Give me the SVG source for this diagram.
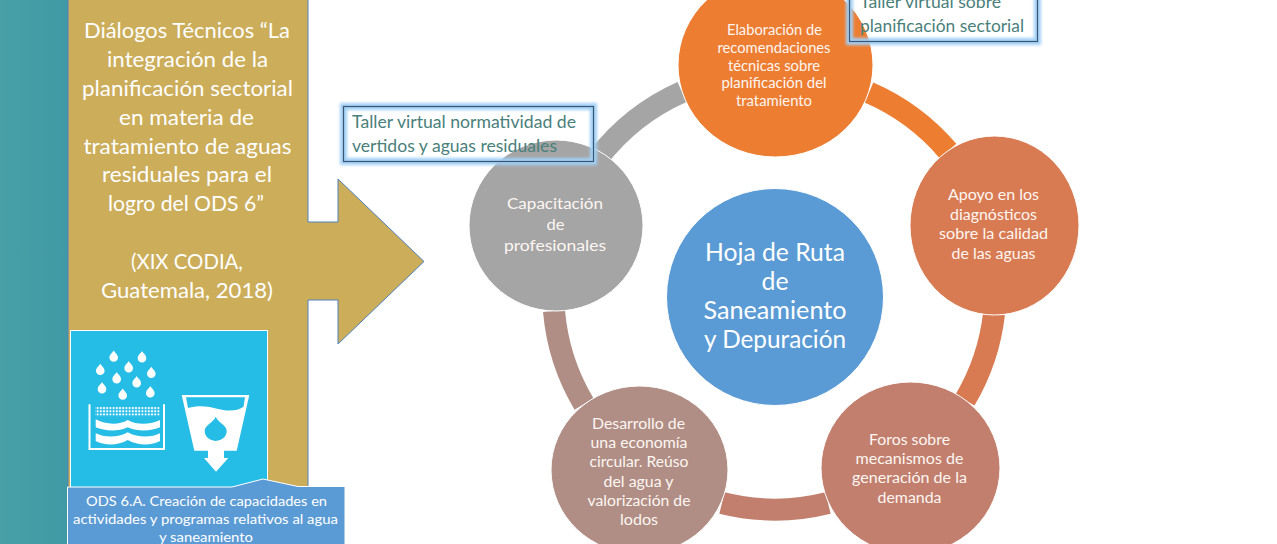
<svg xmlns="http://www.w3.org/2000/svg" width="1277" height="544" viewBox="0 0 1277 544">
<style>
text{font-family:"Lato","Open Sans","Liberation Sans",sans-serif;text-anchor:middle;fill:#fff}
.main{font-size:21.5px}
.c{font-size:14.5px;fill:#fdf6f2}
.hub{font-size:24.5px}
.note{font-size:16.5px;fill:#4a807b;text-anchor:start}
.call{font-size:14px}
.arc{fill:none;stroke-width:22}
.glow{fill:none;stroke:#a2d0f5;stroke-width:7;filter:url(#blur)}
.frame{fill:none;stroke:#3a5673;stroke-width:1.2}
.w{fill:#fff}
</style>
<defs>
<linearGradient id="teal" x1="0" x2="1" y1="0" y2="0"><stop offset="0" stop-color="#489fa6"/><stop offset="1" stop-color="#3f9aa5"/></linearGradient>
<filter id="blur" x="-10%" y="-30%" width="120%" height="160%"><feGaussianBlur stdDeviation="1.800"/></filter>
<pattern id="dots" width="3.200" height="3.200" patternUnits="userSpaceOnUse"><circle cx="1.600" cy="1.600" r="1.100" fill="#fff"/></pattern>
<path id="drop" d="M0-5.600C1.300-3.200 4.300-1.400 4.300 1.500A4.300 4.300 0 0 1-4.300 1.500C-4.300-1.400-1.300-3.200 0-5.600Z" fill="#fff"/>
</defs>
<rect width="1277" height="544" fill="#fff"/>
<rect id="strip" width="68" height="544" fill="url(#teal)"/>
<g id="source">
<path d="M68-2H308V222H338V179L424 261.500 338 344V300H308V544H68Z" fill="#ccad5a" stroke="#4f81bd" stroke-width="1"/>
<g class="main">
<text x="187" y="38" class="main" textLength="206" lengthAdjust="spacingAndGlyphs">Diálogos Técnicos “La</text>
<text x="187.500" y="67" class="main" textLength="161" lengthAdjust="spacingAndGlyphs">integración de la</text>
<text x="187.500" y="96" class="main" textLength="211" lengthAdjust="spacingAndGlyphs">planificación sectorial</text>
<text x="186.500" y="124.500" class="main" textLength="135" lengthAdjust="spacingAndGlyphs">en materia de</text>
<text x="187.500" y="153.500" class="main" textLength="208" lengthAdjust="spacingAndGlyphs">tratamiento de aguas</text>
<text x="187" y="182" class="main" textLength="170" lengthAdjust="spacingAndGlyphs">residuales para el</text>
<text x="186" y="211" class="main" textLength="156" lengthAdjust="spacingAndGlyphs">logro del ODS 6”</text>
<text x="187" y="269" class="main" textLength="112" lengthAdjust="spacingAndGlyphs">(XIX CODIA,</text>
<text x="187" y="297.500" class="main" textLength="172" lengthAdjust="spacingAndGlyphs">Guatemala, 2018)</text>
</g>
</g>
<g id="ods-icon">
<rect x="70.500" y="330.500" width="197" height="160" fill="#25bce6" stroke="#fff" stroke-width="1"/>
<use href="#drop" x="113.700" y="356"/><use href="#drop" x="142" y="356.700"/><use href="#drop" x="128.700" y="366.700"/><use href="#drop" x="100.300" y="369.300"/><use href="#drop" x="151.300" y="372.300"/><use href="#drop" x="116.700" y="377.700"/><use href="#drop" x="136.700" y="381.700"/><use href="#drop" x="102" y="387.700"/><use href="#drop" x="122.700" y="394"/><use href="#drop" x="150.300" y="391.700"/>
<path d="M89.500 404.300V449H164V404.300" fill="none" stroke="#fff" stroke-width="2"/>
<rect x="95" y="406.700" width="65" height="9.600" fill="url(#dots)"/>
<path class="w" d="M95.700 419.300C104 424 118 426 127.700 420C138 426 152 424 160 420V427.300C152 431 138 432 127.700 427.300C118 432 104 431 95.700 427.300Z"/>
<path class="w" d="M95.700 433.300C104 437.500 118 438 127.700 432.300C138 438 152 437.500 160 433.300V441C152 445.500 138 446 127.700 440C118 446 104 445.500 95.700 441Z"/>
<path class="w" fill-rule="evenodd" d="M181.700 395H249.300L236.700 450.700H224V458H228.300L216 471.700 204 458H208V450.700H194.300ZM186 397.300 188 408C198 405.500 206 406 216 408.500S236 412 243.500 406.700L245 397.300ZM215.700 416.700C213 423 204.700 425 204.700 431A11 10 0 0 0 226.700 431C226.700 425 218.400 423 215.700 416.700Z"/>
</g>
<g id="ods-callout">
<path d="M67.500 487H232L263 479 298 486.500H345V545H67.500Z" fill="#5b9bd5" stroke="#fff" stroke-width="1"/>
<text x="206.500" y="506" class="call" textLength="241" lengthAdjust="spacingAndGlyphs">ODS 6.A.  Creación de capacidades en</text>
<text x="205.500" y="524" class="call" textLength="265" lengthAdjust="spacingAndGlyphs">actividades y programas relativos al agua</text>
<text x="206" y="542" class="call" textLength="94" lengthAdjust="spacingAndGlyphs">y saneamiento</text>
</g>
<g id="connectors">
<path class="arc" stroke="#a5a5a5" d="M598 158A218 218 0 0 1 682 92"/>
<path class="arc" stroke="#ed7d31" d="M869 92.500A218 218 0 0 1 948 151"/>
<path class="arc" stroke="#d97b52" d="M994 314A218 218 0 0 1 965 400"/>
<path class="arc" stroke="#c27f6e" d="M828 503A218 218 0 0 1 722 503"/>
<path class="arc" stroke="#b08e85" d="M584 404A218 218 0 0 1 554 311"/>
</g>
<g id="hub">
<circle cx="775" cy="297" r="108.500" fill="#5b9bd5" stroke="#fff"/>
<text x="775" y="260.500" class="hub" textLength="140" lengthAdjust="spacingAndGlyphs">Hoja de Ruta</text>
<text x="775" y="289.500" class="hub" textLength="27" lengthAdjust="spacingAndGlyphs">de</text>
<text x="775" y="318.500" class="hub" textLength="143" lengthAdjust="spacingAndGlyphs">Saneamiento</text>
<text x="775" y="347.500" class="hub" textLength="142" lengthAdjust="spacingAndGlyphs">y Depuración</text>
</g>
<g id="node-capacitacion">
<ellipse cx="556" cy="225.500" rx="87" ry="85.500" fill="#a5a5a5" stroke="#fff"/>
<text x="555" y="209" class="c" textLength="96" lengthAdjust="spacingAndGlyphs">Capacitación</text>
<text x="555.500" y="230" class="c" textLength="18" lengthAdjust="spacingAndGlyphs">de</text>
<text x="555" y="251" class="c" textLength="102" lengthAdjust="spacingAndGlyphs">profesionales</text>
</g>
<g id="node-elaboracion">
<ellipse cx="775.500" cy="65" rx="97.500" ry="92" fill="#ed7d31" stroke="#fff"/>
<text x="774.500" y="35" class="c" textLength="95" lengthAdjust="spacingAndGlyphs">Elaboración de</text>
<text x="774" y="53" class="c" textLength="113" lengthAdjust="spacingAndGlyphs">recomendaciones</text>
<text x="774" y="70.500" class="c" textLength="92" lengthAdjust="spacingAndGlyphs">técnicas sobre</text>
<text x="774" y="88" class="c" textLength="105" lengthAdjust="spacingAndGlyphs">planificación del</text>
<text x="774" y="106" class="c" textLength="76" lengthAdjust="spacingAndGlyphs">tratamiento</text>
</g>
<g id="node-apoyo">
<ellipse cx="994.500" cy="225.500" rx="84.500" ry="89.500" fill="#d97b52" stroke="#fff"/>
<text x="993.500" y="200" class="c" textLength="91" lengthAdjust="spacingAndGlyphs">Apoyo en los</text>
<text x="993.500" y="220" class="c" textLength="87" lengthAdjust="spacingAndGlyphs">diagnósticos</text>
<text x="993.500" y="239" class="c" textLength="109" lengthAdjust="spacingAndGlyphs">sobre la calidad</text>
<text x="993.500" y="259" class="c" textLength="84" lengthAdjust="spacingAndGlyphs">de las aguas</text>
</g>
<g id="node-foros">
<ellipse cx="910.500" cy="468" rx="89.500" ry="86" fill="#c27f6e" stroke="#fff"/>
<text x="909.500" y="445" class="c" textLength="81" lengthAdjust="spacingAndGlyphs">Foros sobre</text>
<text x="909.500" y="464" class="c" textLength="108" lengthAdjust="spacingAndGlyphs">mecanismos de</text>
<text x="909.500" y="483" class="c" textLength="115" lengthAdjust="spacingAndGlyphs">generación de la</text>
<text x="909.500" y="503" class="c" textLength="64" lengthAdjust="spacingAndGlyphs">demanda</text>
</g>
<g id="node-desarrollo">
<ellipse cx="639.500" cy="470" rx="88.500" ry="84" fill="#b08e85" stroke="#fff"/>
<text x="638.500" y="429" class="c" textLength="93" lengthAdjust="spacingAndGlyphs">Desarrollo de</text>
<text x="639" y="448" class="c" textLength="97" lengthAdjust="spacingAndGlyphs">una economía</text>
<text x="639" y="467" class="c" textLength="99" lengthAdjust="spacingAndGlyphs">circular. Reúso</text>
<text x="638.500" y="486.500" class="c" textLength="70" lengthAdjust="spacingAndGlyphs">del agua y</text>
<text x="639" y="505.500" class="c" textLength="103" lengthAdjust="spacingAndGlyphs">valorización de</text>
<text x="639" y="524.500" class="c" textLength="38" lengthAdjust="spacingAndGlyphs">lodos</text>
</g>
<g id="note-normatividad">
<rect class="glow" x="343.500" y="106.500" width="250" height="55"/>
<rect class="frame" x="343.500" y="106.500" width="250" height="55"/>
<text x="352" y="128" class="note" textLength="224" lengthAdjust="spacingAndGlyphs">Taller virtual normatividad de</text>
<text x="352" y="151.500" class="note" textLength="205" lengthAdjust="spacingAndGlyphs">vertidos y aguas residuales</text>
</g>
<g id="note-sectorial">
<rect class="glow" x="849.500" y="-15" width="188" height="56.500"/>
<rect class="frame" x="849.500" y="-15" width="188" height="56.500"/>
<text x="860" y="8" class="note" textLength="141" lengthAdjust="spacingAndGlyphs">Taller virtual sobre</text>
<text x="860" y="31.500" class="note" textLength="164" lengthAdjust="spacingAndGlyphs">planificación sectorial</text>
</g>
</svg>
